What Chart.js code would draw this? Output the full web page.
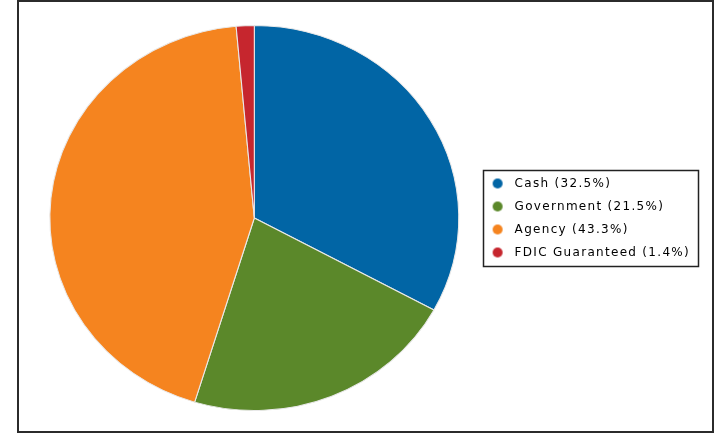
<!DOCTYPE html>
<html>
<head>
<meta charset="utf-8">
<script src="https://cdn.jsdelivr.net/npm/chart.js@4/dist/chart.umd.min.js"></script>
<style>
  html, body { margin: 0; padding: 0; background: #fff; }
  body { width: 717px; height: 434px; position: relative; overflow: hidden; }
  #frame {
    position: absolute; left: 17px; top: 0; width: 697px; height: 433px;
    box-sizing: border-box; border: 2px solid #2b2b2b;
  }
  #wrap { position: absolute; left: 0; top: 0; width: 693px; height: 429px; }
</style>
</head>
<body>
<div id="frame"><div id="wrap"><canvas id="chart"></canvas></div></div>
<script>
const categories = ["Cash", "Government", "Agency", "FDIC Guaranteed"];
const shares = [32.5, 21.5, 43.3, 1.4];
const sliceColors = ["#0165a5", "#5b882a", "#f5841f", "#c6262e"];

// the reference pie is a bit wider than tall
const stretchX = 205 / 193;

// legend marker: circle sitting left of the box centre so the text gap matches
function markerFor(color) {
  const c = document.createElement("canvas");
  c.width = 22;
  c.height = 12;
  const g = c.getContext("2d");
  g.fillStyle = color;
  g.beginPath();
  g.arc(6, 6, 5, 0, Math.PI * 2);
  g.fill();
  return c;
}

const ellipse = {
  id: "ellipse",
  beforeDatasetsDraw(chart) {
    const arc = chart.getDatasetMeta(0).data[0];
    if (!arc) return;
    const ctx = chart.ctx;
    ctx.save();
    ctx.translate(arc.x, arc.y);
    ctx.scale(stretchX, 1);
    ctx.translate(-arc.x, -arc.y);
  },
  afterDatasetsDraw(chart) {
    chart.ctx.restore();
  },
};

const spacing = {
  id: "spacing",
  beforeUpdate(chart) { chart.ctx.letterSpacing = "1.3px"; },
  beforeDraw(chart) { chart.ctx.letterSpacing = "1.3px"; },
};

// thin dark box round the legend
const legendBox = {
  id: "legendBox",
  afterDraw(chart) {
    const hb = chart.legend.legendHitBoxes;
    if (!hb || !hb.length) return;
    const left = Math.min(...hb.map((h) => h.left)) - 14;
    const right = Math.max(...hb.map((h) => h.left + h.width)) + 8;
    const top = hb[0].top - 8;
    const bottom = hb[hb.length - 1].top + hb[hb.length - 1].height + 7;
    const ctx = chart.ctx;
    ctx.save();
    ctx.strokeStyle = "#222";
    ctx.lineWidth = 1.5;
    ctx.strokeRect(Math.round(left) + 0.5, Math.round(top) + 0.5,
      Math.round(right - left), Math.round(bottom - top));
    ctx.restore();
  },
};

new Chart(document.getElementById("chart"), {
  type: "pie",
  data: {
    labels: categories,
    datasets: [{
      data: shares,
      backgroundColor: sliceColors,
      borderColor: "#e9e9e9",
      borderWidth: 1,
    }],
  },
  options: {
    responsive: true,
    maintainAspectRatio: false,
    animation: false,
    layout: { padding: { top: 23, bottom: 20, left: 4, right: 12 } },
    plugins: {
      tooltip: { enabled: false },
      legend: {
        position: "right",
        align: "center",
        labels: {
          usePointStyle: true,
          boxWidth: 12,
          boxHeight: 12,
          padding: 11,
          color: "#111",
          font: { family: "'DejaVu Sans'", size: 12 },
          generateLabels: (chart) =>
            categories.map((name, i) => ({
              text: `${name} (${shares[i]}%)`,
              fillStyle: sliceColors[i],
              strokeStyle: sliceColors[i],
              lineWidth: 0,
              pointStyle: markerFor(sliceColors[i]),
              hidden: false,
              index: i,
            })),
        },
      },
    },
  },
  plugins: [ellipse, spacing, legendBox],
});
</script>
</body>
</html>
